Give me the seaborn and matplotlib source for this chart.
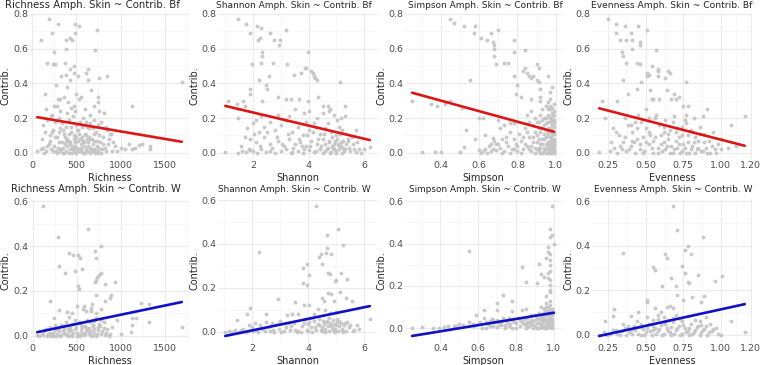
import matplotlib
matplotlib.use("Agg")
import numpy as np
import pandas as pd
import matplotlib.pyplot as plt
import seaborn as sns

# === DATA (x = diversity index, y = contribution) ===
rich_bf = [
    (194, .77), (289, .74), (228, .69), (483, .74), (532, .73), (483, .69), (730, .71), (103, .65),
    (434, .66), (452, .65), (380, .65), (247, .58), (715, .59), (384, .60), (167, .52), (243, .51),
    (259, .51), (369, .52), (471, .50), (426, .48), (627, .48), (608, .46), (475, .46), (517, .44),
    (327, .44), (426, .42), (388, .45), (760, .43), (844, .44), (631, .42), (1690, .41), (274, .39),
    (395, .38), (665, .36), (152, .34), (502, .34), (365, .32), (297, .31), (319, .31), (555, .32),
    (741, .32), (528, .31), (749, .29), (411, .29), (1133, .27), (251, .27), (285, .27), (475, .27),
    (703, .27), (441, .26), (163, .25), (597, .25), (316, .24), (487, .24), (760, .24), (228, .22),
    (392, .23), (650, .22), (810, .23),
    (120, .16), (170, .19), (210, .21), (260, .18), (300, .20), (340, .17), (380, .15), (420, .19),
    (460, .21), (500, .16), (540, .18), (580, .20), (620, .15), (660, .17), (700, .19), (740, .16),
    (780, .18), (830, .15), (880, .11),
    (110, .08), (150, .12), (200, .10), (240, .13), (280, .09), (320, .14), (360, .11), (400, .08),
    (440, .12), (480, .10), (520, .13), (560, .09), (600, .11), (640, .14), (680, .08), (720, .12),
    (760, .10), (800, .09), (850, .13), (890, .11),
    (60, .01), (100, .02), (130, .03), (160, .01), (190, .05), (220, .02), (250, .04), (270, .01),
    (300, .06), (330, .02), (350, .03), (370, .05), (390, .01), (410, .07), (430, .02), (450, .04),
    (470, .01), (490, .06), (510, .03), (530, .02), (550, .05), (570, .01), (590, .04), (610, .02),
    (630, .06), (650, .03), (670, .01), (690, .05), (710, .02), (730, .04), (750, .01), (770, .06),
    (790, .02), (820, .03), (860, .05), (900, .01), (940, .04), (1000, .03), (1090, .05), (1130, .02),
    (1160, .03), (1210, .045), (1330, .02), (1330, .04), (1240, .05),
    (280, .0), (320, .01), (360, .0), (420, .0), (460, .02), (500, .0), (540, .01), (580, .0),
    (620, .01), (660, .0), (700, .01), (740, .0), (520, .07), (470, .08), (380, .07), (620, .08),
    (700, .07),
    (140, .0), (175, .04), (205, .07), (235, .01), (265, .09), (290, .03), (310, .12), (335, .06),
    (355, .0), (375, .09), (395, .04), (415, .11), (435, .06), (455, .0), (475, .03), (495, .09),
    (515, .01), (535, .11), (555, .03), (575, .07), (595, .0), (615, .10), (635, .04), (655, .08),
    (675, .02), (695, .11), (715, .0), (735, .07), (755, .03), (775, .0), (805, .05), (840, .01),
    (870, .08), (910, .06), (960, .01), (1050, .02), (225, .12), (445, .15), (505, .13), (565, .15),
    (345, .13), (685, .14), (615, .18), (425, .05), (585, .06), (645, .09), (485, .04), (545, .08),
]

shan_bf = [
    (1.46, .77), (1.74, .74), (1.88, .69), (2.16, .73), (2.27, .72), (3.17, .71), (2.62, .69), (2.18, .65),
    (2.24, .66), (2.75, .65), (2.97, .65), (2.92, .62), (2.32, .58), (2.31, .56), (3.97, .58), (2.30, .52),
    (1.98, .51), (2.72, .52), (3.23, .51), (3.71, .46), (3.49, .45), (3.87, .49), (3.91, .49), (4.09, .47),
    (4.15, .46), (4.19, .44), (4.24, .43), (4.30, .42), (2.56, .44), (2.48, .39), (2.51, .37), (2.23, .42),
    (1.88, .37), (5.12, .41), (1.88, .34), (2.91, .32), (3.19, .31), (3.37, .31), (3.67, .31), (3.97, .30),
    (4.35, .32), (2.33, .30), (1.10, .30), (1.64, .30), (1.43, .28), (1.46, .25), (1.70, .27), (5.32, .27),
    (4.69, .27), (4.51, .27), (4.78, .25), (4.51, .23), (3.52, .25), (3.83, .23), (4.03, .24), (1.46, .20),
    (5.02, .19), (5.16, .20), (5.32, .21), (4.93, .22), (4.75, .24),
    (1.0, .005), (1.45, .0), (1.6, .01), (1.75, .005), (1.9, .015), (2.0, .01), (2.15, .0), (2.3, .02),
    (2.45, .005), (2.6, .01), (2.8, .0), (3.0, .01), (3.2, .02), (3.4, .005), (3.6, .01), (3.8, .0),
    (4.0, .015), (4.2, .005), (4.4, .02), (4.5, .0), (4.6, .01), (4.7, .03), (4.8, .005), (4.9, .02),
    (5.0, .01), (5.1, .04), (5.2, .0), (5.3, .02), (5.5, .01), (5.7, .005), (5.9, .0), (6.2, .035),
    (1.9, .08), (2.1, .06), (2.4, .09), (2.6, .05), (2.9, .07), (3.1, .04), (3.3, .08), (3.5, .05),
    (3.7, .06), (3.9, .04), (4.1, .07), (4.3, .05), (4.5, .08), (4.6, .05), (4.75, .06), (4.85, .04),
    (4.95, .07), (5.05, .05), (5.15, .06), (5.25, .03), (5.4, .07), (5.6, .05), (5.8, .02),
    (1.8, .14), (2.0, .17), (2.2, .12), (2.4, .15), (2.6, .18), (2.8, .13), (3.0, .16), (3.2, .19),
    (3.4, .12), (3.6, .15), (3.8, .10), (4.0, .13), (4.2, .17), (4.4, .11), (4.6, .14), (4.8, .12),
    (5.0, .10), (5.2, .13), (5.4, .08), (5.7, .13),
    (1.55, .04), (1.7, .09), (1.85, .02), (2.05, .11), (2.25, .04), (2.5, .12), (2.7, .03), (2.85, .09),
    (3.05, .05), (3.25, .11), (3.45, .03), (3.65, .08), (3.85, .02), (3.95, .10), (4.05, .04), (4.15, .12),
    (4.25, .01), (4.35, .08), (4.45, .04), (4.55, .11), (4.65, .02), (4.72, .07), (4.78, .0), (4.83, .09),
    (4.88, .03), (4.92, .05), (4.97, .0), (5.02, .08), (5.08, .02), (5.13, .11), (5.18, .04), (5.22, .07),
    (5.28, .01), (5.35, .05), (5.45, .03), (5.55, .09), (5.65, .02), (5.75, .06), (6.0, .02), (3.35, .0),
    (3.75, .04), (4.25, .15), (4.7, .17), (5.1, .15), (2.9, .22), (3.3, .21), (3.9, .18), (4.3, .2),
    (2.3, .21), (2.1, .19),
]

simp_bf = [
    (.446, .77), (.469, .75), (.52, .73), (.58, .73), (.573, .69), (.70, .71), (.66, .69), (.61, .66),
    (.64, .65), (.67, .64), (.68, .62), (.68, .60), (.68, .56), (.78, .65), (.78, .58), (.84, .59),
    (.69, .51), (.73, .52), (.75, .52), (.90, .51), (.91, .49), (.84, .49), (.83, .47), (.85, .46),
    (.86, .44), (.88, .44), (.90, .42), (.91, .41), (.87, .43), (.78, .44), (.55, .42), (.80, .39),
    (.92, .37), (.79, .34), (.82, .32), (.87, .31), (.92, .32), (.92, .30), (.25, .30), (.35, .28),
    (.38, .27), (.42, .28), (.45, .30), (.51, .26), (.60, .20), (.62, .20), (.53, .13), (.58, .08),
    (.63, .10), (.67, .085), (.30, .005), (.37, .005), (.40, .005), (.50, .005), (.52, .035), (.70, .19),
    (.71, .14), (.73, .16), (.76, .17), (.78, .17),
    (.98, .26), (.97, .25), (.99, .24), (.96, .22), (.98, .21), (.99, .19), (.97, .18), (.95, .20),
    (.98, .16), (.99, .15), (.96, .14), (.97, .12), (.99, .11), (.98, .10), (.95, .09), (.99, .08),
    (.97, .07), (.98, .06), (.99, .05), (.96, .04), (.98, .03), (.99, .02), (.97, .01), (.99, .0),
    (.98, .0), (.96, .0), (.94, .01), (.93, .05), (.92, .03), (.91, .08), (.90, .02), (.89, .12),
    (.88, .06), (.87, .01), (.86, .09), (.85, .04), (.84, .14), (.83, .02), (.82, .07), (.81, .11),
    (.80, .01), (.79, .05), (.78, .08), (.77, .02), (.76, .12), (.75, .04), (.74, .06), (.73, .01),
    (.72, .08), (.71, .03), (.70, .05), (.69, .015), (.68, .07), (.67, .02), (.66, .01), (.65, .04),
    (.64, .0), (.63, .02), (.62, .01), (.61, .0), (.60, .015), (.94, .16), (.93, .19), (.92, .22),
    (.91, .14), (.90, .18), (.95, .27), (.96, .29), (.97, .31), (.93, .25), (.89, .20), (.88, .16),
    (.87, .24), (.86, .18), (.85, .22), (.90, .10), (.92, .12), (.94, .08), (.96, .10), (.97, .03),
    (.95, .02), (.93, .0), (.91, .01), (.89, .03), (.98, .13), (.99, .28), (.97, .35), (.98, .38),
    (.96, .44),
    (.99, .01), (.99, .04), (.99, .07), (.99, .12), (.99, .17), (.99, .22), (.98, .015), (.98, .045),
    (.98, .08), (.98, .12), (.98, .19), (.98, .23), (.97, .0), (.97, .05), (.97, .09), (.97, .14),
    (.97, .2), (.97, .27), (.96, .02), (.96, .06), (.96, .12), (.96, .18), (.96, .25), (.95, .0),
    (.95, .05), (.95, .13), (.95, .17), (.94, .03), (.94, .11), (.94, .2), (.93, .08), (.93, .14),
    (.92, .0), (.92, .05), (.91, .03), (.91, .18), (.90, .06), (.89, .0), (.88, .09), (.87, .04),
    (.86, .02), (.85, .12), (.84, .05), (.83, .09), (.82, .0), (.80, .04), (.78, .02), (.76, .0),
    (.74, .09), (.72, .0), (.69, .05), (.66, .05),
]

even_bf = [
    (.19, .005), (.21, .30), (.23, .20), (.25, .77), (.30, .74), (.30, .69), (.36, .73), (.40, .69),
    (.45, .73), (.51, .71), (.33, .65), (.37, .65), (.41, .65), (.46, .64), (.34, .58), (.35, .56),
    (.41, .60), (.46, .62), (.57, .59), (.37, .52), (.44, .52), (.46, .51), (.51, .46), (.54, .50),
    (.58, .48), (.58, .47), (.65, .47), (.66, .46), (.52, .45), (.51, .44), (.58, .44), (.63, .43),
    (.35, .42), (.77, .41), (.47, .41), (.44, .37), (.53, .36), (.64, .36), (.69, .34), (.38, .34),
    (.70, .31), (.72, .32), (.54, .31), (.55, .31), (.59, .31), (.67, .31), (.31, .30), (.91, .25),
    (.75, .27), (.78, .27), (.50, .25), (.82, .20), (.77, .22), (.88, .21), (1.16, .21), (1.07, .16),
    (.28, .14), (.32, .10), (.35, .06), (.38, .16), (.41, .12), (.44, .08), (.47, .18), (.50, .14),
    (.53, .10), (.56, .20), (.59, .16), (.62, .12), (.65, .08), (.68, .18), (.71, .14), (.74, .10),
    (.77, .17), (.80, .13), (.83, .09), (.86, .15), (.89, .11), (.92, .07), (.95, .12), (.98, .05),
    (1.0, .08), (1.05, .03), (1.10, .04),
    (.26, .01), (.29, .03), (.31, .0), (.34, .02), (.37, .01), (.40, .04), (.43, .0), (.46, .02),
    (.49, .01), (.52, .05), (.55, .0), (.58, .03), (.61, .01), (.64, .04), (.66, .0), (.69, .02),
    (.72, .05), (.74, .01), (.76, .03), (.79, .0), (.81, .04), (.84, .02), (.87, .01), (.90, .03),
    (.93, .0), (.96, .02), (.42, .06), (.55, .07), (.62, .06), (.70, .07), (.78, .06), (.85, .07),
    (.48, .09), (.60, .10), (.72, .09), (.66, .13), (.36, .20), (.45, .22),
    (.27, .06), (.30, .12), (.33, .04), (.36, .09), (.39, .02), (.41, .07), (.44, .14), (.46, .05),
    (.48, .0), (.50, .06), (.52, .12), (.54, .03), (.56, .09), (.58, .0), (.60, .05), (.62, .15),
    (.63, .02), (.65, .11), (.67, .04), (.68, .0), (.70, .12), (.71, .03), (.73, .0), (.74, .15),
    (.75, .05), (.77, .0), (.78, .1), (.80, .02), (.82, .06), (.83, .0), (.85, .03), (.86, .11),
    (.88, .01), (.89, .06), (.91, .0), (.94, .04), (.97, .0), (1.0, .02), (.43, .18), (.57, .22),
    (.69, .21), (.76, .19), (.63, .19), (.52, .2), (.40, .16),
]

rich_w = [
    (118, .58), (631, .476), (289, .44), (772, .40), (411, .37), (460, .36), (513, .36), (532, .345),
    (707, .38), (722, .345), (300, .31), (475, .29), (562, .30), (365, .28), (772, .28), (753, .27),
    (734, .26), (722, .25), (707, .24), (821, .23), (935, .24), (513, .22), (524, .21), (190, .155),
    (715, .18), (886, .18), (874, .17), (821, .155), (300, .115), (581, .135), (658, .125), (669, .14),
    (506, .135), (1228, .145), (1323, .14), (962, .07), (1133, .08), (1171, .08), (1133, .05), (1327, .06),
    (1114, .017), (1000, .007), (1696, .04), (240, .08), (411, .083), (392, .105), (449, .10), (570, .12),
    (600, .11), (665, .11), (722, .10), (772, .12),
    (50, .005), (100, .01), (130, .02), (160, .0), (190, .015), (220, .005), (250, .025), (280, .01),
    (310, .0), (340, .02), (370, .01), (400, .03), (430, .005), (460, .015), (490, .04), (520, .01),
    (550, .025), (580, .005), (610, .035), (640, .015), (670, .0), (700, .03), (730, .01), (760, .045),
    (790, .02), (820, .005), (850, .03), (880, .01), (250, .05), (350, .045), (450, .055), (550, .05),
    (650, .06), (750, .055), (300, .035), (600, .02), (700, .015), (500, .0), (400, .0), (150, .03),
    (900, .04), (200, .04), (620, .07), (700, .065), (720, .08), (480, .07), (380, .06), (780, .07),
    (70, .0), (120, .005), (175, .01), (205, .0), (235, .015), (265, .0), (295, .02), (325, .005),
    (355, .03), (385, .01), (415, .02), (445, .0), (475, .03), (505, .015), (535, .0), (565, .04),
    (595, .01), (625, .025), (655, .005), (685, .045), (715, .0), (745, .025), (775, .01), (805, .035),
    (835, .015), (865, .0), (320, .05), (420, .04), (520, .06), (590, .045), (640, .035), (690, .05),
    (740, .04), (810, .06), (440, .025), (360, .015), (280, .03), (230, .0), (660, .02), (560, .015),
]

shan_w = [
    (4.27, .575), (5.08, .47), (4.69, .44), (5.26, .395), (4.69, .38), (4.63, .36), (4.47, .355), (4.39, .34),
    (4.81, .355), (4.51, .31), (2.24, .365), (3.97, .31), (3.83, .29), (4.05, .26), (3.83, .22), (3.97, .215),
    (4.71, .27), (4.79, .265), (5.19, .27), (4.95, .23), (5.01, .235), (5.40, .24), (5.14, .18), (4.71, .175),
    (4.81, .17), (4.51, .155), (4.57, .14), (4.93, .14), (5.56, .14), (5.34, .155), (2.92, .15), (3.55, .135),
    (3.85, .12), (4.03, .12), (4.35, .105), (1.92, .11), (1.82, .08), (1.46, .055), (2.50, .08), (3.25, .075),
    (3.43, .08), (3.64, .08), (6.20, .06),
    (1.05, .0), (1.2, .005), (1.4, .01), (1.55, .0), (1.7, .015), (1.85, .005), (2.0, .02), (2.15, .01),
    (2.3, .03), (2.45, .005), (2.6, .02), (2.75, .01), (2.9, .035), (3.05, .0), (3.2, .02), (3.35, .01),
    (3.5, .04), (3.65, .005), (3.8, .025), (3.95, .01), (4.05, .045), (4.15, .0), (4.25, .02), (4.35, .035),
    (4.45, .01), (4.55, .05), (4.6, .0), (4.7, .025), (4.8, .04), (4.9, .01), (5.0, .03), (5.1, .05),
    (5.2, .015), (5.3, .04), (5.45, .02), (5.6, .005), (5.8, .015), (2.1, .04), (2.5, .045), (3.0, .05),
    (3.9, .06), (4.1, .065), (4.4, .06), (4.75, .065), (5.05, .06), (2.2, .0), (2.8, .0), (3.6, .0),
    (4.5, .02), (4.95, .0), (5.25, .0), (1.9, .03), (4.0, .035), (4.65, .045),
    (1.3, .0), (1.6, .01), (1.8, .0), (2.05, .005), (2.35, .015), (2.65, .005), (2.95, .015), (3.15, .005),
    (3.4, .025), (3.55, .01), (3.75, .0), (3.85, .04), (4.0, .005), (4.1, .02), (4.2, .05), (4.3, .01),
    (4.4, .03), (4.5, .005), (4.58, .035), (4.62, .015), (4.68, .05), (4.73, .005), (4.78, .03), (4.85, .02),
    (4.88, .055), (4.93, .035), (4.97, .015), (5.03, .045), (5.07, .005), (5.12, .025), (5.17, .04), (5.22, .01),
    (5.27, .03), (5.35, .005), (5.4, .045), (5.5, .03), (5.65, .01), (5.75, .03), (3.3, .04), (2.7, .04),
    (4.2, .08), (4.8, .085), (4.6, .1), (5.0, .09),
]

simp_w = [
    (.99, .58), (.98, .47), (.99, .44), (.98, .43), (1.0, .40), (.97, .385), (.97, .36), (.98, .35),
    (.96, .33), (.98, .32), (.92, .305), (.98, .30), (.83, .29), (.55, .365), (.98, .27), (.97, .26),
    (.93, .255), (.95, .24), (.97, .235), (.98, .23), (.91, .215), (.855, .22), (.98, .205), (.98, .17),
    (.98, .18), (.96, .15), (.73, .155), (.70, .12), (.78, .13), (.98, .13), (.96, .12), (.63, .085),
    (.70, .085), (.78, .08), (.83, .085), (.855, .09), (.93, .10), (.59, .06), (.25, .0), (.30, .005),
    (.36, .003), (.39, .003), (.42, .005), (.44, .01), (.47, .012),
    (.60, .02), (.62, .0), (.64, .03), (.66, .01), (.68, .04), (.70, .005), (.72, .03), (.74, .015),
    (.76, .05), (.78, .0), (.80, .025), (.82, .01), (.84, .045), (.86, .005), (.87, .03), (.88, .06),
    (.89, .015), (.90, .04), (.91, .0), (.92, .025), (.93, .055), (.94, .01), (.95, .035), (.96, .0),
    (.96, .06), (.97, .02), (.97, .045), (.98, .005), (.98, .07), (.99, .03), (.99, .09), (.99, .0),
    (.98, .11), (.97, .08), (.96, .10), (.95, .07), (.94, .05), (.93, .02), (.92, .07), (.91, .05),
    (.90, .01), (.89, .035), (.88, .02), (.86, .05), (.85, .02), (.83, .03), (.81, .05), (.79, .03),
    (.77, .02), (.75, .03), (.73, .05), (.71, .02), (.69, .03), (.67, .045), (.65, .02), (.63, .05),
    (.58, .01), (.55, .03), (.52, .015), (.50, .02),
    (.99, .015), (.99, .045), (.99, .06), (.99, .075), (.98, .02), (.98, .04), (.98, .055), (.98, .085),
    (.97, .005), (.97, .03), (.97, .06), (.97, .1), (.96, .015), (.96, .04), (.96, .08), (.95, .0),
    (.95, .05), (.95, .09), (.94, .03), (.94, .065), (.93, .005), (.93, .04), (.92, .0), (.92, .045),
    (.91, .025), (.90, .06), (.89, .0), (.88, .04), (.87, .01), (.86, .03), (.85, .0), (.84, .02),
    (.82, .04), (.80, .0), (.78, .04), (.76, .01), (.74, .0), (.72, .015), (.70, .04), (.68, .01),
    (.66, .035), (.64, .0), (.61, .03), (.57, .02), (.48, .01),
]

even_w = [
    (.68, .58), (.71, .47), (.88, .44), (.35, .365), (.78, .40), (.76, .38), (.80, .36), (.63, .36),
    (.64, .345), (.55, .305), (.56, .29), (.74, .31), (1.01, .265), (.96, .24), (.76, .275), (.85, .27),
    (.67, .255), (.78, .235), (.79, .23), (.70, .22), (.61, .22), (.89, .175), (.81, .17), (.71, .18),
    (.51, .155), (.51, .145), (.75, .155), (.87, .145), (.56, .12), (.64, .125), (.66, .13), (.68, .12),
    (.29, .115), (.28, .085), (.23, .06), (.40, .085), (.51, .08), (.62, .08), (1.07, .06), (1.16, .01),
    (.19, .0),
    (.22, .01), (.26, .005), (.30, .02), (.33, .0), (.36, .03), (.39, .01), (.42, .04), (.45, .005),
    (.48, .025), (.50, .01), (.52, .05), (.54, .0), (.56, .03), (.58, .015), (.60, .045), (.62, .005),
    (.64, .03), (.66, .01), (.68, .055), (.70, .02), (.72, .04), (.74, .005), (.76, .03), (.78, .015),
    (.80, .05), (.82, .01), (.84, .035), (.86, .0), (.88, .02), (.90, .04), (.92, .01), (.95, .025),
    (.98, .005), (.35, .05), (.44, .06), (.58, .07), (.65, .065), (.73, .07), (.83, .065), (.70, .09),
    (.60, .10), (.47, .0), (.55, .02), (.67, .0), (.79, .0), (.87, .045), (.93, .05), (.40, .02),
    (.24, .0), (.28, .02), (.31, .005), (.34, .015), (.37, .0), (.38, .04), (.41, .005), (.43, .02),
    (.46, .035), (.49, .0), (.51, .03), (.53, .015), (.55, .04), (.57, .005), (.59, .025), (.61, .0),
    (.63, .05), (.65, .015), (.67, .035), (.69, .005), (.71, .03), (.73, .0), (.75, .045), (.77, .01),
    (.79, .03), (.81, .005), (.83, .02), (.85, .04), (.87, .01), (.89, .025), (.91, .0), (.94, .015),
    (.97, .03), (1.0, .0), (.47, .05), (.62, .055), (.74, .06), (.86, .06), (.55, .065), (.68, .075),
    (.78, .085), (.90, .08), (.58, .09), (.45, .1),
]

# fitted linear trend (lm) read at the left / right end of each panel's x range
fit_bf = [(.205, .063), (.270, .073), (.346, .121), (.256, .040)]
fit_w = [(.017, .151), (-.019, .117), (-.037, .073), (-.006, .137)]

metrics = ["Richness", "Shannon", "Simpson", "Evenness"]
groups = ["Bf", "W"]
x_ticks = [[0, 500, 1000, 1500], [2, 4, 6], [0.4, 0.6, 0.8, 1.0], [0.25, 0.5, 0.75, 1.0, 1.2]]
x_ticklabels = [["0", "500", "1000", "1500"], ["2", "4", "6"], ["0.4", "0.6", "0.8", "1.0"],
                ["0.25", "0.50", "0.75", "1.00", "1.20"]]
y_ticks = [[0.0, 0.2, 0.4, 0.6, 0.8], [0.0, 0.2, 0.4, 0.6]]

panel_data = [[rich_bf, shan_bf, simp_bf, even_bf], [rich_w, shan_w, simp_w, even_w]]
panel_fits = [fit_bf, fit_w]
line_colors = ["#DD1515", "#1010C4"]

# layout in reference pixels
W, H = 760, 365
col_left = [30, 218, 405, 592]
col_right = [189, 377, 561, 752]
rows = [(12.5, 159.4), (199, 342.5)]
title_x = [[92, 294, 485, 672], [96, 294, 485, 673]]
title_size = [[7.3, 6.45, 6.45, 6.6], [7.15, 6.4, 6.4, 6.45]]
title_y = [5, 189]

sns.set_style("whitegrid")
plt.rcParams['font.family'] = ['DejaVu Sans']

fig = plt.figure(figsize=(7.6, 3.65), dpi=100)

for r in range(2):
    for c in range(4):
        top, bot = rows[r]
        left, right = col_left[c], col_right[c]
        ax = fig.add_axes([left / W, 1 - bot / H, (right - left) / W, (bot - top) / H])

        df = pd.DataFrame(panel_data[r][c], columns=["x", "y"])
        sns.scatterplot(data=df, x="x", y="y", ax=ax, s=8, color="#C4C4C4",
                        alpha=0.9, linewidth=0)
        fit = pd.DataFrame({"x": [df.x.min(), df.x.max()], "y": list(panel_fits[r][c])})
        sns.lineplot(data=fit, x="x", y="y", ax=ax, color=line_colors[r], lw=1.9)
        ax.margins(0.05)
        ax.autoscale_view()
        xlim, ylim = ax.get_xlim(), ax.get_ylim()

        ax.set_facecolor("white")
        for sp in ax.spines.values():
            sp.set_visible(False)

        xt = x_ticks[c]
        step = xt[1] - xt[0]
        ax.set_xticks(xt)
        ax.set_xticklabels(x_ticklabels[c])
        ax.set_xticks([xt[0] - step / 2] + [(a + b) / 2 for a, b in zip(xt[:-1], xt[1:])]
                      + [xt[-1] + step / 2], minor=True)
        yt = y_ticks[r]
        ax.set_yticks(yt)
        ax.set_yticklabels([f"{v:.1f}" for v in yt])
        ax.set_yticks([-0.1] + [v + 0.1 for v in yt], minor=True)
        ax.set_xlim(xlim)
        ax.set_ylim(ylim)

        ax.grid(which="major", color="#EBEBEB", lw=0.8)
        ax.grid(which="minor", color="#F4F4F4", lw=0.5)
        ax.tick_params(which="both", length=0, labelsize=6.8, labelcolor="#4D4D4D", pad=1)
        ax.set_xlabel(metrics[c], fontsize=7, labelpad=2.5)
        ax.set_ylabel("Contrib.", fontsize=7)
        ax.yaxis.set_label_coords((left - 19 - left) / (right - left), 0.5)
        fig.text(title_x[r][c] / W, 1 - title_y[r] / H,
                 f"{metrics[c]} Amph. Skin ~ Contrib. {groups[r]}",
                 ha="center", va="center", fontsize=title_size[r][c])

fig.savefig("out.png", dpi=100)
